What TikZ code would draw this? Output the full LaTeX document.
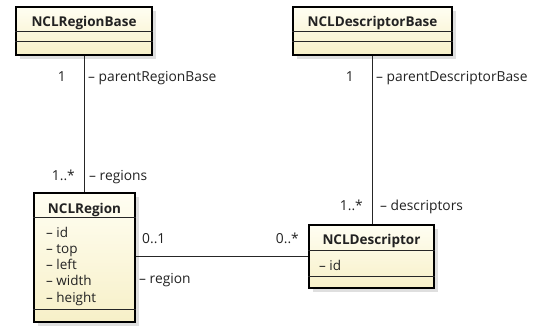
\documentclass[tikz,border=0pt]{standalone}
\usepackage{fontspec}
\setmainfont{Open Sans}
\usetikzlibrary{calc}
\definecolor{clstop}{HTML}{FFFEF2}
\definecolor{clsbot}{HTML}{F7F0C8}
\definecolor{shadowgray}{HTML}{CACACA}
\definecolor{ink}{HTML}{222222}
\tikzset{
  classbox/.style={draw=black, line width=1.6pt, top color=clstop, bottom color=clsbot,
    inner sep=0pt},
  shadowfill/.style={fill=shadowgray, opacity=0.6},
  divider/.style={draw=black!85, line width=0.8pt},
  title/.style={font=\bfseries\fontsize{13.5}{15}\selectfont, inner sep=0pt, anchor=base, text=ink},
  attr/.style={font=\fontsize{13.5}{15}\selectfont, inner sep=0pt, anchor=base west, text=ink},
  lbl/.style={font=\fontsize{13.8}{15}\selectfont, inner sep=0pt, anchor=base west, text=ink},
  mult/.style={font=\fontsize{13.8}{15}\selectfont, inner sep=0pt, anchor=base east, text=ink},
  assoc/.style={draw=black!85, line width=0.8pt}
}
\begin{document}
\begin{tikzpicture}[x=1pt, y=-1pt]
\useasboundingbox[fill=white] (0,0) rectangle (544,327);

% drop shadows
\fill[shadowfill] (20,11) rectangle (156,59);
\fill[shadowfill] (297,11) rectangle (456,59);
\fill[shadowfill] (38,197) rectangle (139,326);
\fill[shadowfill] (313,229) rectangle (438,292);

% class boxes
\node[classbox, minimum width=136pt, minimum height=48pt] (rb) at (84,31) {};
\node[classbox, minimum width=159pt, minimum height=48pt] (db) at (372.5,31) {};
\node[classbox, minimum width=101pt, minimum height=129pt] (r) at (84.5,257.5) {};
\node[classbox, minimum width=125pt, minimum height=63pt] (d) at (371.5,256.5) {};

% compartment dividers
\draw[divider] ($(rb.north west)+(0,25)$) -- ($(rb.north east)+(0,25)$);
\draw[divider] ($(rb.north west)+(0,35)$) -- ($(rb.north east)+(0,35)$);
\draw[divider] ($(db.north west)+(0,25)$) -- ($(db.north east)+(0,25)$);
\draw[divider] ($(db.north west)+(0,35)$) -- ($(db.north east)+(0,35)$);
\draw[divider] ($(r.north west)+(0,25)$) -- ($(r.north east)+(0,25)$);
\draw[divider] ($(r.south west)+(0,-13)$) -- ($(r.south east)+(0,-13)$);
\draw[divider] ($(d.north west)+(0,26)$) -- ($(d.north east)+(0,26)$);
\draw[divider] ($(d.south west)+(0,-12)$) -- ($(d.south east)+(0,-12)$);

% class names
\node[title] (rbt) at (84,26.5) {NCLRegionBase};
\node[title] (dbt) at (372.5,26.5) {NCLDescriptorBase};
\node[title] (rt) at (84.5,213) {NCLRegion};
\node[title] (dt) at (371.5,244) {NCLDescriptor};

% attributes
\node[attr] (ra1) at (46,237) {– id};
\node[attr] (ra2) at (46,253.3) {– top};
\node[attr] (ra3) at (46,269.6) {– left};
\node[attr] (ra4) at (46,285.9) {– width};
\node[attr] (ra5) at (46,302.2) {– height};
\node[attr] (da1) at (319,270) {– id};

% associations
\draw[assoc] (rb.south) -- (rb.south |- r.north);
\draw[assoc] (db.south) -- (db.south |- d.north);
\draw[assoc] (d.west -| r.east) -- (d.west);

% role names and multiplicities
\node[mult] (m1) at (66,81) {1};
\node[lbl]  (l1) at (88,81) {– parentRegionBase};
\node[mult] (m2) at (75,180) {1..*};
\node[lbl]  (l2) at (89,180) {– regions};
\node[mult] (m3) at (354,81) {1};
\node[lbl]  (l3) at (376,81) {– parentDescriptorBase};
\node[mult] (m4) at (363,210) {1..*};
\node[lbl]  (l4) at (380,210) {– descriptors};
\node[lbl]  (m5) at (142,243) {0..1};
\node[mult] (m6) at (299,243) {0..*};
\node[lbl]  (l5) at (139,283) {– region};
\end{tikzpicture}
\end{document}
